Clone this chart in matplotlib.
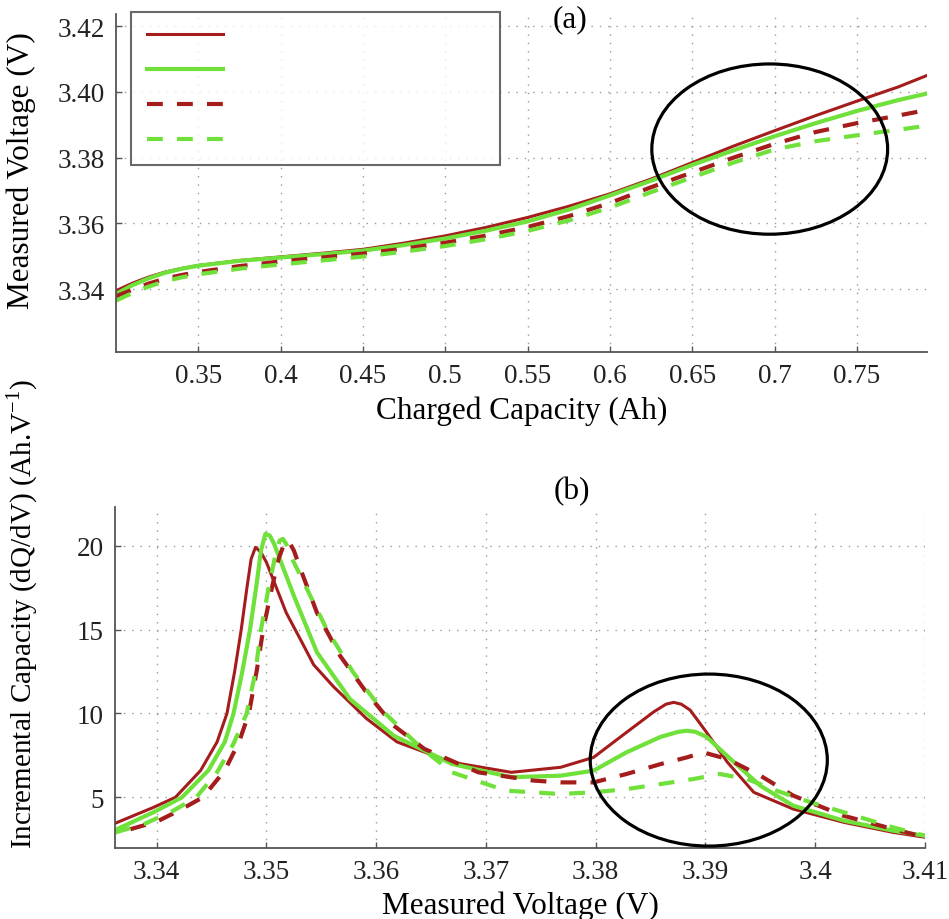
import numpy as np
import matplotlib
matplotlib.use('Agg')
import matplotlib.pyplot as plt
from matplotlib.patches import Ellipse

plt.rcParams['font.family'] = ['Liberation Serif', 'DejaVu Serif']
plt.rcParams['mathtext.fontset'] = 'custom'
plt.rcParams['mathtext.rm'] = 'Liberation Serif'

# ---- (a) voltage vs charged capacity ----
cap = [0.300, 0.310, 0.320, 0.330, 0.340, 0.350, 0.375, 0.400, 0.425, 0.450, 0.475, 0.500,
       0.525, 0.550, 0.575, 0.600, 0.625, 0.650, 0.675, 0.700, 0.725, 0.750, 0.775, 0.7925]
v_red = [3.3395, 3.3418, 3.3437, 3.3452, 3.3463, 3.3472, 3.3487, 3.3498, 3.3509, 3.3521, 3.3540, 3.3562,
         3.3588, 3.3618, 3.3652, 3.3690, 3.3735, 3.3785, 3.3835, 3.3882, 3.3928, 3.3972, 3.4015, 3.4050]
v_green = [3.3385, 3.3412, 3.3433, 3.3450, 3.3462, 3.3471, 3.3486, 3.3496, 3.3506, 3.3517, 3.3534, 3.3554,
           3.3578, 3.3606, 3.3642, 3.3685, 3.3730, 3.3778, 3.3822, 3.3865, 3.3905, 3.3942, 3.3975, 3.3995]
v_red_d = [3.3378, 3.3398, 3.3417, 3.3432, 3.3443, 3.3452, 3.3470, 3.3484, 3.3496, 3.3508, 3.3523, 3.3541,
           3.3563, 3.3589, 3.3622, 3.3662, 3.3710, 3.3755, 3.3800, 3.3842, 3.3878, 3.3905, 3.3928, 3.3945]
v_green_d = [3.3365, 3.3388, 3.3408, 3.3424, 3.3436, 3.3445, 3.3462, 3.3475, 3.3487, 3.3499, 3.3514, 3.3531,
             3.3552, 3.3577, 3.3609, 3.3648, 3.3695, 3.3740, 3.3785, 3.3825, 3.3850, 3.3868, 3.3885, 3.3897]

# ---- (b) incremental capacity vs voltage ----
vr = [3.3362, 3.3397, 3.3417, 3.3440, 3.3455, 3.3464, 3.3471, 3.3477, 3.3482, 3.3486, 3.3490, 3.3495,
      3.3500, 3.3506, 3.3518, 3.3531, 3.3543, 3.3561, 3.3591, 3.3619, 3.3669, 3.3723, 3.3768, 3.3798,
      3.3828, 3.3853, 3.3864, 3.3871, 3.3878, 3.3886, 3.3901, 3.3920, 3.3944, 3.3980, 3.4026, 3.4071,
      3.4100]
ic_r = [3.45, 4.40, 5.00, 6.60, 8.30, 10.0, 12.5, 15.0, 17.4, 19.2, 19.9, 19.6,
        19.0, 18.0, 16.0, 14.4, 12.9, 11.6, 9.70, 8.30, 7.09, 6.49, 6.79, 7.38,
        8.87, 10.1, 10.55, 10.66, 10.55, 10.2, 8.87, 7.09, 5.30, 4.30, 3.51, 2.91,
        2.62]
vg = [3.3362, 3.3397, 3.3423, 3.3447, 3.3462, 3.3470, 3.3478, 3.3485, 3.3491, 3.3495, 3.3499, 3.3503,
      3.3507, 3.3511, 3.3525, 3.3546, 3.3576, 3.3616, 3.3669, 3.3723, 3.3768, 3.3798, 3.3828, 3.3859,
      3.3875, 3.3883, 3.3891, 3.3901, 3.3926, 3.3950, 3.3980, 3.4026, 3.4071, 3.4100]
ic_g = [3.05, 4.11, 5.00, 6.60, 8.30, 10.0, 12.5, 15.0, 17.7, 19.7, 20.7, 20.6,
        20.1, 19.4, 17.0, 13.64, 10.86, 8.67, 6.99, 6.20, 6.29, 6.59, 7.68, 8.60,
        8.90, 8.97, 8.90, 8.60, 7.09, 5.69, 4.50, 3.61, 3.01, 2.71]
vrd = [3.3376, 3.3400, 3.3420, 3.3442, 3.3462, 3.3475, 3.3484, 3.3491, 3.3497, 3.3505, 3.3511, 3.3516,
       3.3520, 3.3525, 3.3531, 3.3546, 3.3567, 3.3591, 3.3616, 3.3644, 3.3693, 3.3743, 3.3768, 3.3798,
       3.3828, 3.3859, 3.3883, 3.3898, 3.3920, 3.3950, 3.3980, 3.4026, 3.4071, 3.4100]
ic_rd = [3.10, 3.55, 4.20, 5.00, 6.60, 8.30, 10.0, 12.5, 15.0, 17.5, 19.2, 20.1,
         20.3, 19.7, 18.6, 16.0, 13.44, 11.26, 9.27, 7.88, 6.49, 6.00, 5.89, 5.89,
         6.39, 6.98, 7.38, 7.68, 7.28, 6.29, 5.10, 3.90, 3.11, 2.62]
vgd = [3.3362, 3.3390, 3.3415, 3.3436, 3.3455, 3.3470, 3.3482, 3.3490, 3.3495, 3.3502, 3.3508, 3.3512,
       3.3515, 3.3518, 3.3522, 3.3537, 3.3555, 3.3579, 3.3607, 3.3640, 3.3669, 3.3718, 3.3767, 3.3798,
       3.3828, 3.3859, 3.3889, 3.3913, 3.3938, 3.3965, 3.3996, 3.4026, 3.4071, 3.4100]
ic_gd = [2.90, 3.45, 4.20, 5.00, 6.50, 8.20, 10.0, 12.5, 15.0, 17.5, 19.4, 20.3,
         20.4, 20.1, 19.4, 17.4, 15.0, 12.45, 10.07, 8.00, 6.49, 5.40, 5.20, 5.30,
         5.49, 5.79, 6.09, 6.39, 6.09, 5.39, 4.70, 4.11, 3.21, 2.71]

xt_a = [0.35, 0.4, 0.45, 0.5, 0.55, 0.6, 0.65, 0.7, 0.75]
xt_a_lab = ['0.35', '0.4', '0.45', '0.5', '0.55', '0.6', '0.65', '0.7', '0.75']
yt_a = [3.34, 3.36, 3.38, 3.40, 3.42]
yt_a_lab = ['3.34', '3.36', '3.38', '3.40', '3.42']
xt_b = [3.34, 3.35, 3.36, 3.37, 3.38, 3.39, 3.40, 3.41]
xt_b_lab = ['3.34', '3.35', '3.36', '3.37', '3.38', '3.39', '3.4', '3.41']
yt_b = [5, 10, 15, 20]

RED = '#a51c1c'
GREEN = '#70e03a'
dash = (0, (3.8, 3.4))
tksz = 19.5
lbsz = 22.5

fig = plt.figure(figsize=(9.49, 9.20), dpi=100)
ax1 = fig.add_axes([0.1222, 0.6168, 0.8546, 0.3669])
ax2 = fig.add_axes([0.1212, 0.0768, 0.8535, 0.3710])

def style(ax):
	for s in ['top', 'right']:
		ax.spines[s].set_visible(False)
	for s in ['left', 'bottom']:
		ax.spines[s].set_color('#555555')
		ax.spines[s].set_linewidth(1.3)
	ax.tick_params(direction='in', length=4, width=1, colors='#555555', labelcolor='#222222',
				   labelsize=tksz, pad=8)
	ax.grid(True, ls=(0, (1, 5)), color='#999999', lw=1.0)

l1, = ax1.plot(cap, v_red, color=RED, lw=2.2)
l2, = ax1.plot(cap, v_green, color=GREEN, lw=3.0)
l3, = ax1.plot(cap, v_red_d, color=RED, lw=3.0, ls=dash)
l4, = ax1.plot(cap, v_green_d, color=GREEN, lw=3.0, ls=dash)
ax1.set_xlim(0.30, 0.7925)
ax1.set_ylim(3.321, 3.4237)
ax1.set_xticks(xt_a, xt_a_lab)
ax1.set_yticks(yt_a, yt_a_lab)
style(ax1)
ax1.add_patch(Ellipse((0.697, 3.3826), 0.1432, 0.0518, fill=False, ec='black', lw=2.3, zorder=5))
ax1.set_xlabel('Charged Capacity (Ah)', fontsize=lbsz, labelpad=6)
ax1.set_ylabel('Measured Voltage (V)', fontsize=lbsz)
ax1.yaxis.set_label_coords(-0.099, 0.54)
leg = ax1.legend([l1, l2, l3, l4], [' ', ' ', ' ', ' '], loc='upper left',
				 bbox_to_anchor=(0.019, 1.006, 0.455, 0.0), mode='expand', borderaxespad=0,
				 fontsize=14, handlelength=3.9, labelspacing=0.89, borderpad=0.8,
				 frameon=True, fancybox=False, edgecolor='#444444')
leg.get_frame().set_linewidth(1.5)

ax2.plot(vr, ic_r, color=RED, lw=2.2)
ax2.plot(vg, ic_g, color=GREEN, lw=3.0)
ax2.plot(vrd, ic_rd, color=RED, lw=3.0, ls=dash)
ax2.plot(vgd, ic_gd, color=GREEN, lw=3.0, ls=dash)
ax2.set_xlim(3.3362, 3.41)
ax2.set_ylim(1.96, 22.3)
ax2.set_xticks(xt_b, xt_b_lab)
ax2.set_yticks(yt_b, [str(t) for t in yt_b])
style(ax2)
ax2.add_patch(Ellipse((3.3903, 7.22), 0.0216, 10.25, fill=False, ec='black', lw=2.3, zorder=5))
ax2.set_xlabel('Measured Voltage (V)', fontsize=lbsz, labelpad=4)
ax2.set_ylabel('Incremental Capacity (dQ/dV) (Ah.V$^{\\mathregular{-1}}$)', fontsize=21)
ax2.yaxis.set_label_coords(-0.0926, 0.69)

fig.text(570 / 949, 1 - 20 / 920, '(a)', fontsize=lbsz, ha='center', va='center')
fig.text(572 / 949, 1 - 492 / 920, '(b)', fontsize=lbsz, ha='center', va='center')

fig.savefig('out.png', dpi=100)
